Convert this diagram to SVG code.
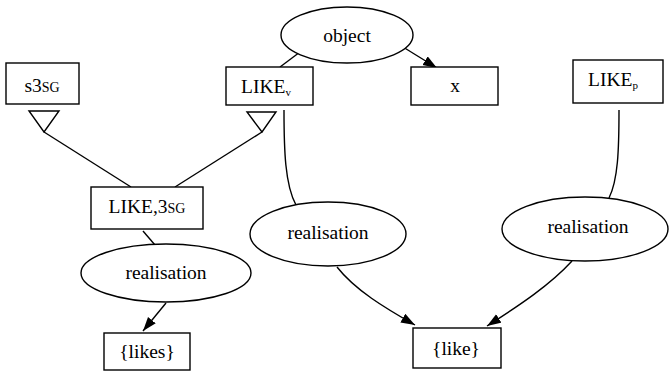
<svg xmlns="http://www.w3.org/2000/svg" width="669" height="371" viewBox="0 0 669 371">
<defs>
<style>
.n{fill:#fff;stroke:#000;stroke-width:1.4}
.e{fill:none;stroke:#000;stroke-width:1.4}
text{font-family:"Liberation Serif","Times New Roman","DejaVu Serif",serif;font-size:19.5px;fill:#000;text-anchor:middle}
.sc{font-size:14px}
.sub{font-size:11px}
</style>
<marker id="ah" markerUnits="userSpaceOnUse" markerWidth="15" markerHeight="11" refX="14" refY="5" orient="auto">
<path d="M0,0 L14,5 L0,10 z" fill="#000"/>
</marker>
</defs>
<rect width="669" height="371" fill="#fff"/>
<g id="connectors">
<path class="e" d="M300,52 L280,67"/>
<path class="e" d="M403,47 L437,68" marker-end="url(#ah)"/>
<path class="e" d="M284,110 C284,150 285,185 296,205"/>
<path class="e" d="M619,110 C619,150 618,180 609,198"/>
<path class="e" d="M44,132 L131,187"/>
<path class="e" d="M262,132 L175,187"/>
<path class="e" d="M143,231 L155,245"/>
<path class="e" d="M166,303 L143,331" marker-end="url(#ah)"/>
<path class="e" d="M337,267 C355,290 385,308 415,325" marker-end="url(#ah)"/>
<path class="e" d="M572,261 C550,285 520,305 487,326" marker-end="url(#ah)"/>
<path class="n" d="M29,111 L59,111 L44,132 z"/>
<path class="n" d="M247,112 L276,112 L262,132 z"/>
</g>
<g id="object">
<ellipse class="n" cx="347" cy="35" rx="66" ry="28"/>
<text x="347" y="42" font-family="Liberation Serif, DejaVu Serif, serif">object</text>
</g>
<g id="s3sg">
<rect class="n" x="6" y="63" width="73" height="41"/>
<text x="42" y="92" font-family="Liberation Serif, DejaVu Serif, serif">s3<tspan class="sc">SG</tspan></text>
</g>
<g id="likev">
<rect class="n" x="226" y="67" width="87" height="38"/>
<text x="266" y="93" font-family="Liberation Serif, DejaVu Serif, serif">LIKE<tspan class="sub" dy="3">v</tspan></text>
</g>
<g id="x">
<rect class="n" x="411" y="67" width="87" height="38"/>
<text x="455" y="92" font-family="Liberation Serif, DejaVu Serif, serif">x</text>
</g>
<g id="likep">
<rect class="n" x="573" y="60" width="90" height="43"/>
<text x="613" y="86" font-family="Liberation Serif, DejaVu Serif, serif">LIKE<tspan class="sub" dy="3">p</tspan></text>
</g>
<g id="like3sg">
<rect class="n" x="91" y="187" width="112" height="42"/>
<text x="147" y="213" font-family="Liberation Serif, DejaVu Serif, serif">LIKE,3<tspan class="sc">SG</tspan></text>
</g>
<g id="real-left">
<ellipse class="n" cx="166" cy="273" rx="85" ry="29"/>
<text x="166" y="279" font-family="Liberation Serif, DejaVu Serif, serif">realisation</text>
</g>
<g id="real-mid">
<ellipse class="n" cx="328" cy="234" rx="78" ry="32"/>
<text x="328" y="239" font-family="Liberation Serif, DejaVu Serif, serif">realisation</text>
</g>
<g id="real-right">
<ellipse class="n" cx="585" cy="229" rx="83" ry="32"/>
<text x="588" y="233" font-family="Liberation Serif, DejaVu Serif, serif">realisation</text>
</g>
<g id="likes">
<rect class="n" x="104" y="333" width="86" height="37"/>
<text x="147" y="358" font-family="Liberation Serif, DejaVu Serif, serif">{likes}</text>
</g>
<g id="like">
<rect class="n" x="413" y="328" width="88" height="40"/>
<text x="456" y="355" font-family="Liberation Serif, DejaVu Serif, serif">{like}</text>
</g>
</svg>
